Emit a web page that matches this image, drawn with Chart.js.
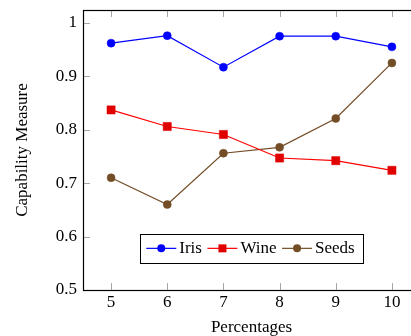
<!DOCTYPE html>
<html>
<head>
<meta charset="utf-8">
<script src="https://cdn.jsdelivr.net/npm/chart.js@4/dist/chart.umd.min.js"></script>
<style>
html,body{margin:0;padding:0;background:#fff;overflow:hidden;width:411px;height:336px;}
canvas{display:block;}
</style>
</head>
<body>
<canvas id="c" width="440" height="336"></canvas>
<script>
const percentages = [5, 6, 7, 8, 9, 10];
const iris  = [0.962, 0.976, 0.917, 0.975, 0.975, 0.955];
const wine  = [0.837, 0.806, 0.791, 0.747, 0.742, 0.724];
const seeds = [0.710, 0.660, 0.756, 0.767, 0.821, 0.925];
const xTicks = [5, 6, 7, 8, 9, 10];
const yTicks = [0.5, 0.6, 0.7, 0.8, 0.9, 1];
const yTickLabels = ['0.5', '0.6', '0.7', '0.8', '0.9', '1'];
const seriesNames = ['Iris', 'Wine', 'Seeds'];

const FONT = "'Liberation Serif', 'Times New Roman', serif";
const BLUE = '#0000ff', RED = '#ff0000', BROWN = '#734d26';

function pts(vals){ return percentages.map((x,i)=>({x:x, y:vals[i]})); }

const frameTicks = {
  id: 'frameTicks',
  beforeDatasetsDraw(chart){
    const {ctx, chartArea:a, scales} = chart;
    ctx.save();
    ctx.strokeStyle = '#a6a6a6';
    ctx.lineWidth = 1;
    const L = 7;
    ctx.beginPath();
    xTicks.forEach(v=>{
      const px = Math.round(scales.x.getPixelForValue(v)) + 0.5;
      ctx.moveTo(px, a.bottom); ctx.lineTo(px, a.bottom - L);
      ctx.moveTo(px, a.top); ctx.lineTo(px, a.top + L);
    });
    yTicks.forEach(v=>{
      const py = Math.round(scales.y.getPixelForValue(v)) + 0.5;
      ctx.moveTo(a.left, py); ctx.lineTo(a.left + L, py);
      ctx.moveTo(a.right, py); ctx.lineTo(a.right - L, py);
    });
    ctx.stroke();
    ctx.strokeStyle = '#000';
    ctx.lineWidth = 1.2;
    ctx.strokeRect(Math.round(a.left)+0.5, Math.round(a.top)+0.5, Math.round(a.right-a.left), Math.round(a.bottom-a.top));
    ctx.restore();
  }
};

const boxLegend = {
  id: 'boxLegend',
  afterDatasetsDraw(chart){
    const {ctx, chartArea:a} = chart;
    ctx.save();
    ctx.font = '17px ' + FONT;
    const padL = 6.5, padR = 8.5, sample = 30, gapT = 3, gapI = 5.5;
    const items = chart.data.datasets.map(ds=>({ds, w: ctx.measureText(ds.label).width}));
    let total = padL + padR;
    items.forEach((it,i)=>{ total += sample + gapT + it.w + (i < items.length-1 ? gapI : 0); });
    const h = 28.7;
    const cx = (a.left + a.right)/2;
    const left = cx - total/2;
    const bottom = a.bottom - 27.3;
    const top = bottom - h;
    const cy = top + h/2;
    ctx.fillStyle = '#fff';
    ctx.fillRect(left, top, total, h);
    ctx.strokeStyle = '#000';
    ctx.lineWidth = 1;
    ctx.strokeRect(Math.round(left)+0.5, Math.round(top)+0.5, Math.round(total), Math.round(h));
    let x = left + padL;
    items.forEach((it,i)=>{
      const ds = it.ds;
      ctx.strokeStyle = ds.borderColor;
      ctx.lineWidth = 1.2;
      ctx.beginPath(); ctx.moveTo(x, cy); ctx.lineTo(x + sample, cy); ctx.stroke();
      const mx = x + sample/2;
      ctx.fillStyle = ds.pointBackgroundColor;
      if (ds.pointStyle === 'rect') {
        ctx.fillRect(mx - 4, cy - 4, 8, 8);
      } else {
        ctx.beginPath(); ctx.arc(mx, cy, 4, 0, Math.PI*2); ctx.fill();
      }
      x += sample + gapT;
      ctx.fillStyle = '#000';
      ctx.textBaseline = 'middle';
      ctx.textAlign = 'left';
      ctx.fillText(ds.label, x, cy);
      x += it.w + gapI;
    });
    ctx.restore();
  }
};

new Chart(document.getElementById('c'), {
  type: 'line',
  data: {
    datasets: [
      {label: seriesNames[0], data: pts(iris), borderColor: BLUE, backgroundColor: BLUE,
       pointBackgroundColor: BLUE, pointBorderColor: BLUE, pointStyle: 'circle', pointRadius: 4, borderWidth: 1.2, pointBorderWidth: 0.5},
      {label: seriesNames[1], data: pts(wine), borderColor: RED, backgroundColor: '#e00000',
       pointBackgroundColor: '#e00000', pointBorderColor: '#e00000', pointStyle: 'rect', pointRadius: 5.8, borderWidth: 1.2, pointBorderWidth: 0.5},
      {label: seriesNames[2], data: pts(seeds), borderColor: BROWN, backgroundColor: BROWN,
       pointBackgroundColor: BROWN, pointBorderColor: BROWN, pointStyle: 'circle', pointRadius: 4, borderWidth: 1.2, pointBorderWidth: 0.5}
    ]
  },
  options: {
    responsive: false,
    animation: false,
    devicePixelRatio: 1,
    layout: {padding: {left: 0, top: 10, right: 20, bottom: 0}},
    plugins: {legend: {display: false}, tooltip: {enabled: false}},
    elements: {line: {tension: 0}},
    scales: {
      x: {
        type: 'linear', min: 4.5, max: 10.5,
        afterBuildTicks: s => { s.ticks = xTicks.map(v=>({value: v})); },
        afterFit: s => { s.height = 46; s.paddingLeft = 0; s.paddingRight = 0; },
        grid: {display: false, drawTicks: false},
        border: {display: false},
        ticks: {color: '#000', font: {family: FONT, size: 17}, padding: 2, maxRotation: 0,
                callback: v => String(v)},
        title: {display: true, text: 'Percentages', color: '#000', font: {family: FONT, size: 17, lineHeight: 1}, padding: {top: 0, bottom: 0}}
      },
      y: {
        type: 'linear', min: 0.5, max: 1.024,
        afterBuildTicks: s => { s.ticks = yTicks.map(v=>({value: v})); },
        afterFit: s => { s.width = 83; s.paddingTop = 0; s.paddingBottom = 0; },
        grid: {display: false, drawTicks: false},
        border: {display: false},
        ticks: {color: '#000', font: {family: FONT, size: 17}, padding: 6,
                callback: (v, i) => yTickLabels[i]},
        title: {display: true, text: 'Capability Measure', color: '#000', font: {family: FONT, size: 17, lineHeight: 1}, padding: {top: 14.5, bottom: 0}}
      }
    }
  },
  plugins: [frameTicks, boxLegend]
});
</script>
</body>
</html>
